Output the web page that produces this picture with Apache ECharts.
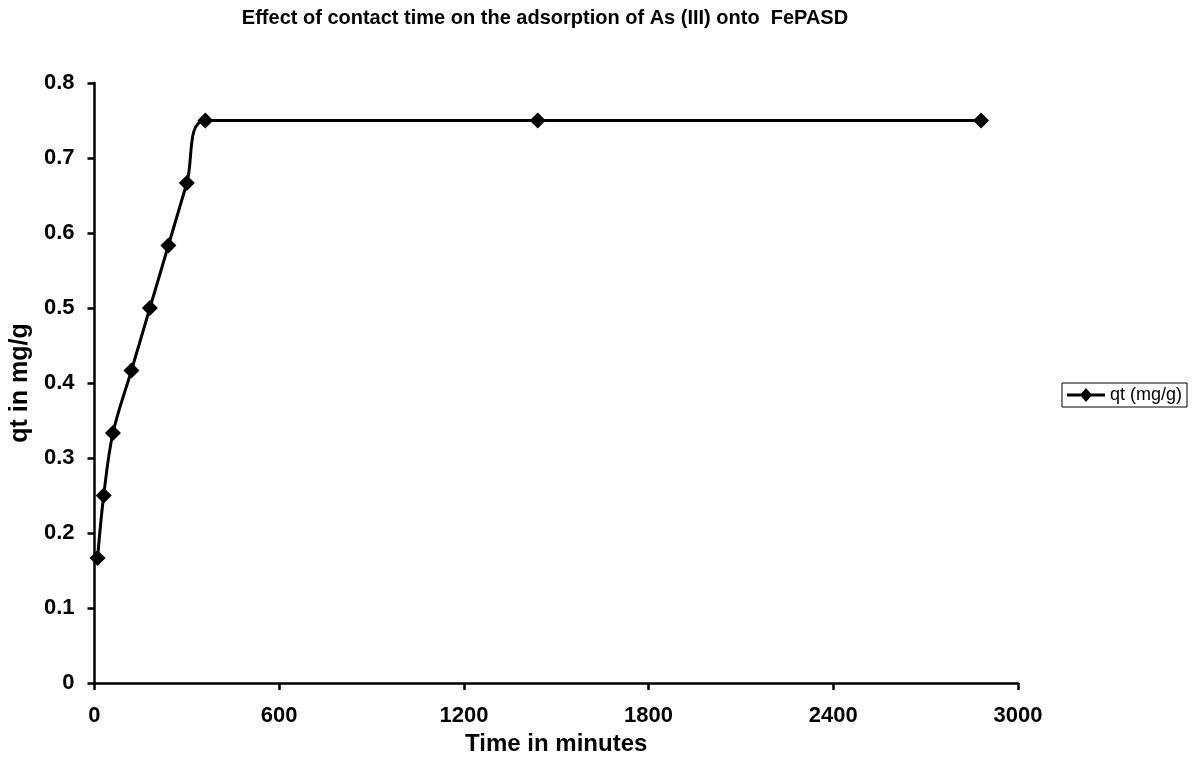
<!DOCTYPE html>
<html>
<head>
<meta charset="utf-8">
<script src="https://cdn.jsdelivr.net/npm/echarts@6/dist/echarts.min.js"></script>
<style>html,body{margin:0;padding:0;background:#fff}#c{width:1199px;height:778px}</style>
</head>
<body>
<div id="c"></div>
<script>
var timeMinutes = [10, 30, 60, 120, 180, 240, 300, 360, 1440, 2880];
var qtValues = [0.1667, 0.25, 0.3333, 0.4167, 0.5, 0.5833, 0.6667, 0.75, 0.75, 0.75];
var seriesName = 'qt (mg/g)';
var titleText = 'Effect of contact time on the adsorption of As (III) onto  FePASD';

var points = timeMinutes.map(function (t, i) { return [t, qtValues[i]]; });
var font = 'Liberation Sans, Arial, sans-serif';

var chart = echarts.init(document.getElementById('c'), null, { renderer: 'canvas' });
chart.setOption({
  animation: false,
  backgroundColor: '#fff',
  title: {
    text: titleText,
    left: 540, top: 3, textAlign: 'center',
    textStyle: { fontFamily: font, fontWeight: 'bold', fontSize: 20, color: '#000' }
  },
  legend: {
    left: 1062, top: 383,
    orient: 'vertical',
    data: [{ name: seriesName, icon: 'path://M0,8.5L15,8.5L15,11.5L0,11.5Z M13,10L19,3L25,10L19,17Z M23,8.5L38,8.5L38,11.5L23,11.5Z' }],
    itemWidth: 38, itemHeight: 14, itemGap: 0,
    borderColor: '#000', borderWidth: 1, borderRadius: 0, padding: [3, 5, 3, 5],
    textStyle: { fontFamily: font, fontSize: 18, color: '#000' },
    itemStyle: { color: '#000' }
  },
  grid: { left: 93, right: 181, top: 83, bottom: 95, containLabel: false },
  xAxis: {
    type: 'value', min: 0, max: 3000, interval: 600,
    name: 'Time in minutes', nameLocation: 'middle', nameGap: 46,
    nameTextStyle: { fontFamily: font, fontWeight: 'bold', fontSize: 24, color: '#000' },
    axisLine: { lineStyle: { color: '#000', width: 2.5 } },
    axisTick: { inside: false, length: 7, lineStyle: { color: '#000', width: 2.5 } },
    axisLabel: {
      fontFamily: font, fontWeight: 'bold', fontSize: 22, color: '#000', margin: 22,
      formatter: function (v) { return String(v); }
    },
    splitLine: { show: false }
  },
  yAxis: {
    type: 'value', min: 0, max: 0.8, interval: 0.1,
    name: 'qt in mg/g', nameLocation: 'middle', nameGap: 54, nameRotate: 90,
    nameTextStyle: { fontFamily: font, fontWeight: 'bold', fontSize: 25, color: '#000' },
    axisLine: { show: true, lineStyle: { color: '#000', width: 2.5 } },
    axisTick: { show: true, inside: false, length: 7, lineStyle: { color: '#000', width: 2.5 } },
    axisLabel: { fontFamily: font, fontWeight: 'bold', fontSize: 22, color: '#000', margin: 20 },
    splitLine: { show: false }
  },
  series: [{
    name: seriesName,
    type: 'line',
    data: points,
    smooth: 0.35,
    symbol: 'diamond',
    symbolSize: 16,
    itemStyle: { color: '#000' },
    lineStyle: { color: '#000', width: 3 }
  }]
});
</script>
</body>
</html>
